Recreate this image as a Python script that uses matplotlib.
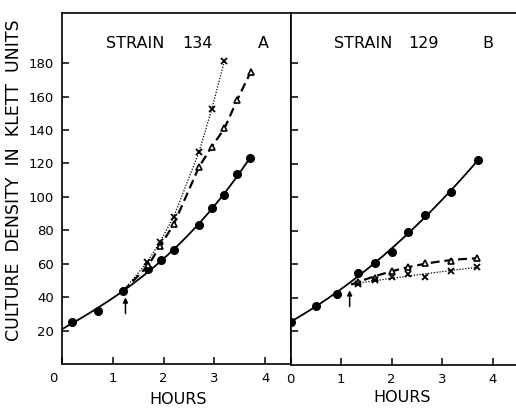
import numpy as np
import matplotlib
matplotlib.use("Agg")
import matplotlib.pyplot as plt
from matplotlib.transforms import ScaledTranslation

# ---------------- data ----------------
# Panel A  - strain 134
a_circ_x = [0.2, 0.7, 1.2, 1.7, 1.95, 2.2, 2.7, 2.95, 3.2, 3.45, 3.7]
a_circ_y = [25, 32, 43.5, 57, 62, 68, 83, 93.5, 101, 113.5, 123]
a_tri_x = [1.7, 1.93, 2.2, 2.7, 2.95, 3.2, 3.45, 3.72]
a_tri_y = [59, 70.5, 83.5, 118, 130, 141, 158, 175]
a_crs_x = [1.68, 1.93, 2.2, 2.7, 2.95, 3.2]
a_crs_y = [61, 73, 88, 127, 152.5, 181.5]
a_branch = (1.2, 43.5)
a_arrow_x = 1.25

# Panel B  - strain 129
b_circ_x = [0.0, 0.5, 0.92, 1.33, 1.67, 2.0, 2.33, 2.67, 3.17, 3.7]
b_circ_y = [25.5, 35, 42, 54.5, 60.5, 67.5, 79, 89.5, 103, 122]
b_tri_x = [1.33, 1.67, 2.0, 2.33, 2.67, 3.17, 3.69]
b_tri_y = [49.5, 51.5, 56, 58.5, 60.5, 62, 63.5]
b_crs_x = [1.33, 1.67, 2.0, 2.33, 2.67, 3.17, 3.69]
b_crs_y = [48, 50.5, 52, 54, 52.5, 56, 58.5]
b_branch = (1.2, 48)
b_arrow_x = 1.17

x_ticks = [0, 1, 2, 3, 4]
y_ticks = [20, 40, 60, 80, 100, 120, 140, 160, 180]

# ---------------- figure ----------------
W, H = 516, 413
fig = plt.figure(figsize=(W / 100, H / 100), dpi=100)
plt.rcParams['font.family'] = ['DejaVu Sans']

def px_rect(x0, x1, ytop, ybot):
    return [x0 / W, 1 - ybot / H, (x1 - x0) / W, (ybot - ytop) / H]

axA = fig.add_axes(px_rect(62, 290.5, 13, 364))
axB = fig.add_axes(px_rect(290.5, 518, 13, 364.5))

def style(ax, show_ylabels):
    ax.set_xlim(0, 4.5)
    ax.set_ylim(0, 210)
    ax.set_xticks(x_ticks)
    ax.set_yticks(y_ticks)
    ax.tick_params(direction='in', length=5, width=1.1, labelsize=9.5, pad=6,
                   top=False, right=False)
    for s in ax.spines.values():
        s.set_linewidth(1.2)
    ax.spines['right'].set_visible(ax is axA)
    if not show_ylabels:
        ax.set_yticklabels([])
    ax.set_facecolor('white')

style(axA, True)
style(axB, False)

# shift the left panel's "0" x label to the left, as in the reference
lbl0 = axA.get_xticklabels()[0]
lbl0.set_transform(lbl0.get_transform() + ScaledTranslation(-9 / 100, 0, fig.dpi_scale_trans))


def smooth(xs, ys, deg, x0, x1):
    c = np.polyfit(xs, ys, deg)
    xx = np.linspace(x0, x1, 200)
    return xx, np.polyval(c, xx)


def side_line(xs, ys, branch, deg):
    bx, by = branch
    if deg is None:
        return [bx] + list(xs), [by] + list(ys)
    return smooth([bx] + list(xs), [by] + list(ys), deg, bx, xs[-1])


def draw(ax, cx, cy, tx, ty, kx, ky, branch, arrow_x, x_start, deg_side):
    # main (solid) curve
    xx, yy = smooth(cx, cy, 3, x_start, cx[-1])
    ax.plot(xx, yy, color='black', lw=1.3, zorder=2)
    ax.plot(cx, cy, 'o', color='black', ms=5.5, zorder=3)
    # dashed triangles
    xx, yy = side_line(tx, ty, branch, deg_side)
    ax.plot(xx, yy, color='black', lw=1.6, ls=(0, (4, 2.2)), zorder=2)
    ax.plot(tx, ty, '^', mfc='white', mec='black', mew=1.2, ms=5, zorder=3)
    # dotted crosses
    xx, yy = side_line(kx, ky, branch, deg_side)
    ax.plot(xx, yy, color='black', lw=0.9, ls=(0, (1, 1.3)), zorder=2)
    ax.plot(kx, ky, 'x', color='black', mew=1.3, ms=4, zorder=3)
    # arrow
    by = branch[1]
    ax.annotate('', xy=(arrow_x, by - 2), xytext=(arrow_x, by - 15),
                arrowprops=dict(arrowstyle='-|>', color='black', lw=1.1,
                                mutation_scale=7))


draw(axA, a_circ_x, a_circ_y, a_tri_x, a_tri_y, a_crs_x, a_crs_y,
     a_branch, a_arrow_x, 0.0, None)
draw(axB, b_circ_x, b_circ_y, b_tri_x, b_tri_y, b_crs_x, b_crs_y,
     b_branch, b_arrow_x, 0.0, 2)

tfs = 11.5
axA.text(1.44, 192, 'STRAIN', ha='center', va='center', fontsize=tfs)
axA.text(2.66, 192, '134', ha='center', va='center', fontsize=tfs)
axA.text(3.96, 192, 'A', ha='center', va='center', fontsize=tfs)
axB.text(1.43, 192, 'STRAIN', ha='center', va='center', fontsize=tfs)
axB.text(2.63, 192, '129', ha='center', va='center', fontsize=tfs)
axB.text(3.91, 192, 'B', ha='center', va='center', fontsize=tfs)

fig.text(14 / W, 1 - 180 / H, 'CULTURE  DENSITY  IN  KLETT  UNITS',
         rotation=90, ha='center', va='center', fontsize=12.5)
fig.text(178 / W, 1 - 399 / H, 'HOURS', ha='center', va='center', fontsize=11.5)
fig.text(402 / W, 1 - 398 / H, 'HOURS', ha='center', va='center', fontsize=11.5)

fig.savefig('out.png', dpi=100, facecolor='white')
